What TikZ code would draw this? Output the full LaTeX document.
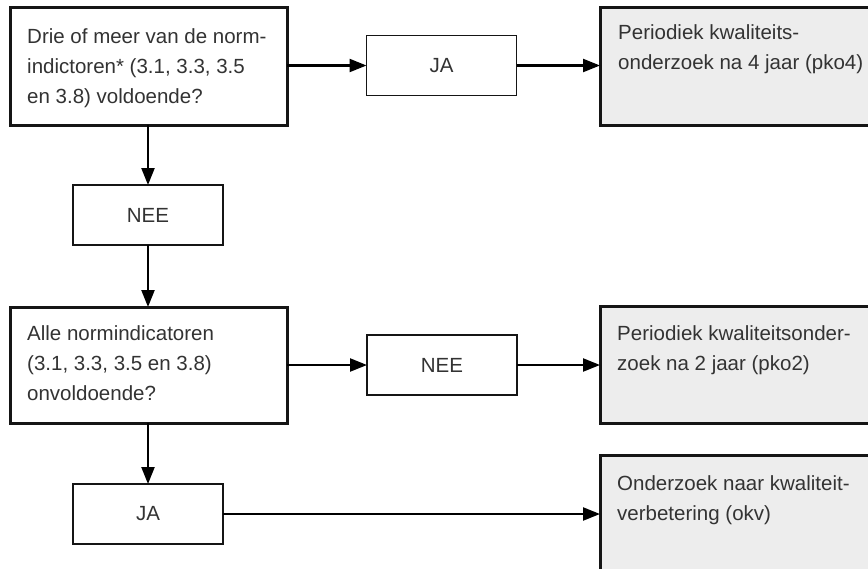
\documentclass[tikz,border=0pt]{standalone}
\usepackage{fontspec}
\setmainfont{Liberation Sans}
\usetikzlibrary{arrows.meta}
\definecolor{txt}{HTML}{333333}
\definecolor{boxfill}{HTML}{EDEDED}
\definecolor{edge}{HTML}{151515}
\tikzset{
  bigbox/.style={draw=edge, line width=3pt, fill=white, minimum width=277pt, minimum height=118pt, inner sep=0pt, outer sep=0pt},
  resbox/.style={bigbox, fill=boxfill},
  smallbox/.style={draw=edge, line width=1.4pt, fill=white, minimum width=150pt, minimum height=60pt, inner sep=0pt, outer sep=0pt, text=txt, font=\fontsize{20.5pt}{30pt}\selectfont},
  boxtext/.style={anchor=north west, inner sep=0pt, align=left, text=txt, font=\fontsize{20.5pt}{30pt}\selectfont},
  conn/.style={draw=black, line width=2.3pt, -{Triangle[length=17pt, width=13pt]}},
}
\begin{document}
\begin{tikzpicture}[x=1pt, y=-1pt]
\useasboundingbox (0,0) rectangle (868,568);
\clip (0,0) rectangle (868,568);
% boxes
\node[bigbox] (q1) at (148.5,66) {};
\node[smallbox] (ja1) at (441.5,65.5) {JA};
\node[resbox] (r1) at (738.5,66) {};
\node[smallbox] (nee1) at (148,215) {NEE};
\node[bigbox, minimum height=116pt] (q2) at (148.5,365) {};
\node[smallbox] (nee2) at (442,365) {NEE};
\node[resbox, minimum height=117pt] (r2) at (738.5,364.5) {};
\node[smallbox] (ja2) at (148,514) {JA};
\node[resbox, minimum height=117pt] (r3) at (738.5,513.5) {};
% texts
\node[boxtext] (t1) at (27,28) {Drie of meer van de norm-\\indictoren* (3.1, 3.3, 3.5\\en 3.8) voldoende?};
\node[boxtext] (t2) at (618,24) {Periodiek kwaliteits-\\onderzoek na 4 jaar (pko4)};
\node[boxtext] (t3) at (27,325) {Alle normindicatoren\\(3.1, 3.3, 3.5 en 3.8)\\onvoldoende?};
\node[boxtext] (t4) at (617,325) {Periodiek kwaliteitsonder-\\zoek na 2 jaar (pko2)};
\node[boxtext] (t5) at (617,475) {Onderzoek naar kwaliteit-\\verbetering (okv)};
% connectors
\draw[conn] (q1.east |- ja1.west) -- (ja1.west);
\draw[conn] (ja1.east) -- (r1.west |- ja1.east);
\draw[conn] (q1.south -| nee1.north) -- (nee1.north);
\draw[conn] (nee1.south) -- (q2.north -| nee1.south);
\draw[conn] (q2.east |- nee2.west) -- (nee2.west);
\draw[conn] (nee2.east) -- (r2.west |- nee2.east);
\draw[conn] (q2.south -| ja2.north) -- (ja2.north);
\draw[conn] (ja2.east) -- (r3.west |- ja2.east);
\end{tikzpicture}
\end{document}
